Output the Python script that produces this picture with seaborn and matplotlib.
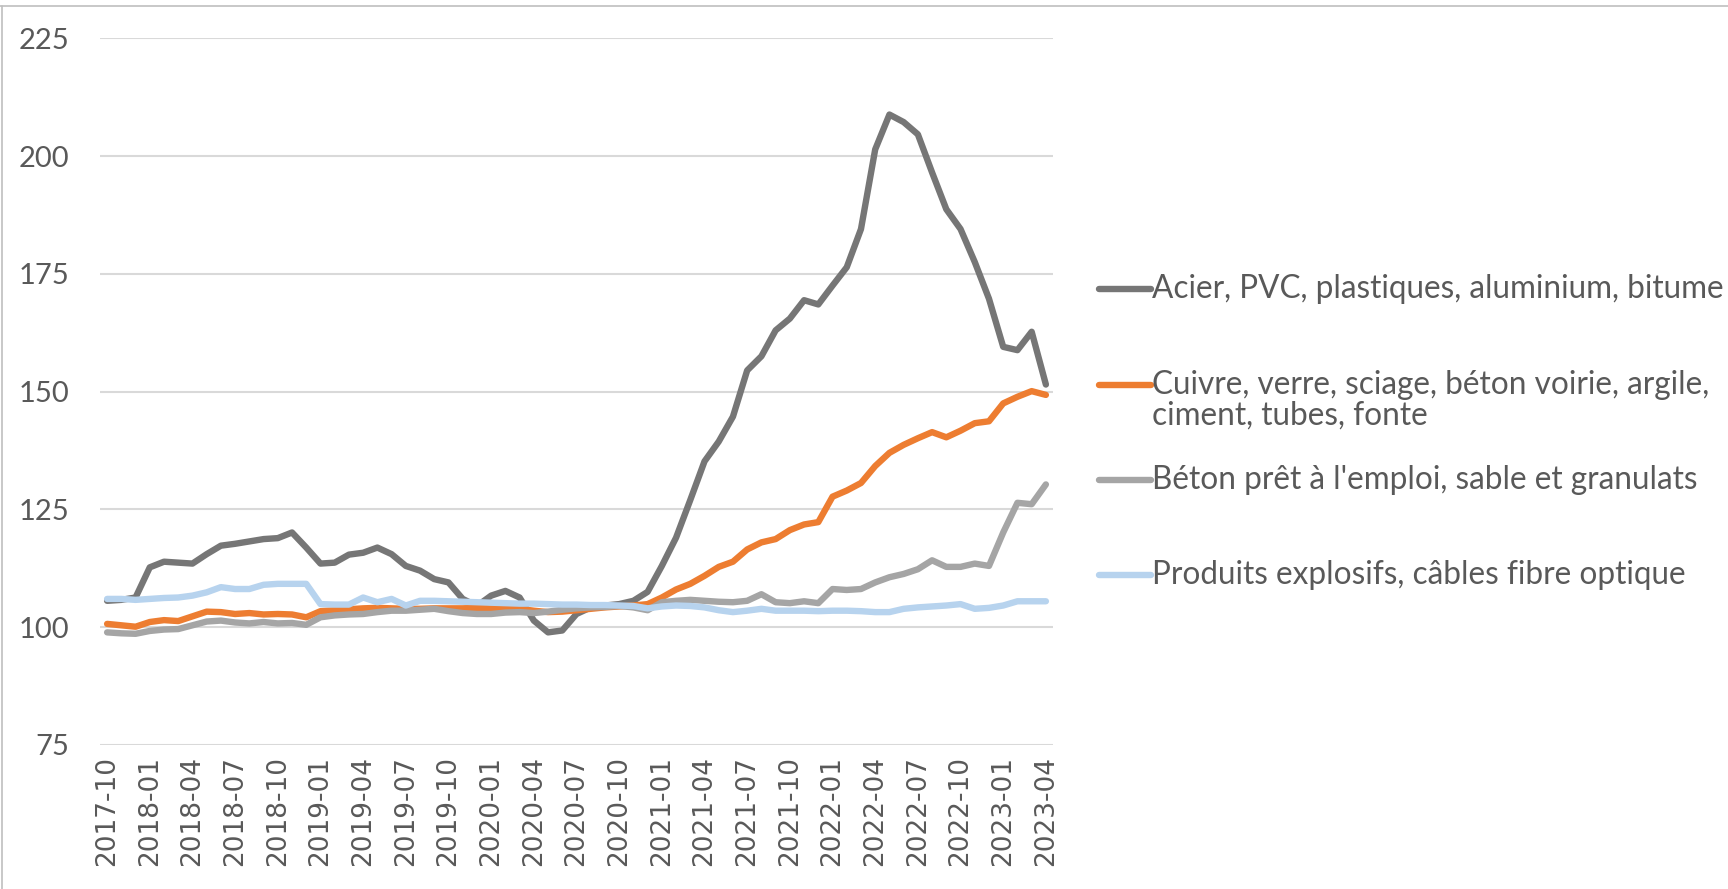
import numpy as np
import pandas as pd
import seaborn as sns
import matplotlib.pyplot as plt
from matplotlib.lines import Line2D

sns.set_theme(style='white')
plt.rcParams['font.family'] = ['Lato', 'DejaVu Sans']

mois = pd.period_range('2017-10', '2023-04', freq='M').strftime('%Y-%m').tolist()

acier = [105.6, 105.8, 106.3, 112.7, 113.9, 113.7, 113.5, 115.5, 117.3, 117.7, 118.2, 118.7,
         118.9, 120.1, 116.9, 113.5, 113.7, 115.4, 115.8, 116.9, 115.5, 113.0, 112.0, 110.2,
         109.5, 106.0, 104.5, 106.7, 107.7, 106.3, 101.4, 98.9, 99.3, 102.8, 104.2, 104.6,
         104.9, 105.6, 107.5, 113.0, 119.0, 127.0, 135.2, 139.4, 144.7, 154.5, 157.5, 163.0,
         165.5, 169.4, 168.5, 172.5, 176.4, 184.5, 201.4, 208.8, 207.2, 204.6, 196.5, 188.7,
         184.5, 177.5, 169.7, 159.5, 158.8, 162.7, 151.5]
cuivre = [100.7, 100.4, 100.1, 101.1, 101.5, 101.3, 102.3, 103.3, 103.2, 102.8, 103.0, 102.7,
          102.8, 102.7, 102.1, 103.4, 103.6, 103.8, 104.0, 104.1, 104.0, 103.9, 103.9, 104.0,
          104.0, 104.0, 104.1, 104.0, 104.0, 103.9, 103.5, 103.2, 103.3, 103.6, 103.9, 104.2,
          104.4, 104.6, 104.9, 106.3, 108.0, 109.2, 110.9, 112.8, 113.9, 116.5, 118.0, 118.7,
          120.6, 121.8, 122.3, 127.7, 129.0, 130.6, 134.2, 137.0, 138.7, 140.1, 141.4, 140.3,
          141.7, 143.3, 143.7, 147.5, 148.9, 150.1, 149.3]
beton = [98.9, 98.7, 98.6, 99.2, 99.5, 99.6, 100.4, 101.2, 101.4, 101.0, 100.8, 101.1,
         100.8, 100.9, 100.5, 102.1, 102.5, 102.7, 102.8, 103.2, 103.5, 103.5, 103.7, 103.9,
         103.4, 103.0, 102.8, 102.8, 103.1, 103.2, 103.0, 103.3, 103.7, 104.0, 104.2, 104.3,
         104.5, 104.2, 103.6, 105.3, 105.6, 105.8, 105.6, 105.4, 105.3, 105.6, 107.0, 105.3,
         105.1, 105.5, 105.1, 108.1, 107.9, 108.1, 109.5, 110.6, 111.3, 112.3, 114.2, 112.8,
         112.8, 113.5, 113.0, 120.1, 126.4, 126.1, 130.3]
explosifs = [106.0, 106.0, 105.8, 106.0, 106.2, 106.3, 106.7, 107.4, 108.5, 108.1, 108.1, 109.0,
             109.2, 109.2, 109.2, 104.9, 104.8, 104.8, 106.3, 105.3, 106.0, 104.6, 105.6, 105.6,
             105.5, 105.4, 105.3, 105.2, 105.1, 105.0, 105.0, 104.9, 104.8, 104.8, 104.7, 104.7,
             104.6, 104.5, 104.0, 104.4, 104.6, 104.5, 104.2, 103.6, 103.2, 103.5, 103.9, 103.5,
             103.5, 103.5, 103.4, 103.5, 103.5, 103.4, 103.2, 103.2, 103.9, 104.2, 104.4, 104.6,
             104.9, 103.9, 104.1, 104.6, 105.5, 105.5, 105.5]

series = ['Acier, PVC, plastiques, aluminium, bitume',
          'Cuivre, verre, sciage, béton voirie, argile,\nciment, tubes, fonte',
          "Béton prêt à l'emploi, sable et granulats",
          'Produits explosifs, câbles fibre optique']
couleurs = ['#767676', '#ED7D31', '#A5A5A5', '#B7D3EE']

df = pd.DataFrame({'mois': mois * 4,
                   'indice': acier + cuivre + beton + explosifs,
                   'groupe': np.repeat(series, len(mois))})
df['pos'] = np.tile(np.arange(len(mois)), 4)

fig = plt.figure(figsize=(17.28, 8.89), dpi=100)
ax = fig.add_axes([100 / 1728, 0.162, 953 / 1728, 0.795])

sns.lineplot(data=df, x='pos', y='indice', hue='groupe', hue_order=series,
             palette=couleurs, linewidth=4.6, legend=False, ax=ax, sort=False)

ax.set_xlim(-0.5, len(mois) - 0.5)
ax.set_ylim(75, 225)
ax.set_yticks(range(75, 226, 25))
ax.set_xticks(range(0, len(mois), 3))
ax.set_xticklabels(mois[::3], rotation=90, fontsize=19, color='#595959',
                   family='DejaVu Sans')
ax.tick_params(axis='y', labelsize=21, colors='#595959', length=0, pad=22)
ax.tick_params(axis='x', length=0, pad=8)
ax.yaxis.grid(True, color='#D9D9D9', linewidth=1.5)
ax.set_axisbelow(True)
for s in ax.spines.values():
    s.set_visible(False)
ax.set_xlabel('')
ax.set_ylabel('')

# légende dessinée à la main, comme dans Excel
leg_y = [289, 385, 480, 575]
for lab, col, yy in zip(series, couleurs, leg_y):
    yf = 1 - yy / 889
    fig.add_artist(Line2D([1099 / 1728, 1151 / 1728], [yf, yf], color=col, linewidth=4.6))
    if '\n' in lab:
        fig.text(1152 / 1728, 1 - (yy + 15.5) / 889, lab, fontsize=22.7, color='#595959',
                 va='center', linespacing=1.0)
    else:
        fig.text(1152 / 1728, yf, lab, fontsize=22.7, color='#595959', va='center')

# cadre gris du document
fig.add_artist(Line2D([0, 1], [1 - 6 / 889, 1 - 6 / 889], color='#BFBFBF', linewidth=1.2))
fig.add_artist(Line2D([2 / 1728, 2 / 1728], [0, 1 - 6 / 889], color='#BFBFBF', linewidth=1.2))

fig.savefig('out.png', dpi=100)
